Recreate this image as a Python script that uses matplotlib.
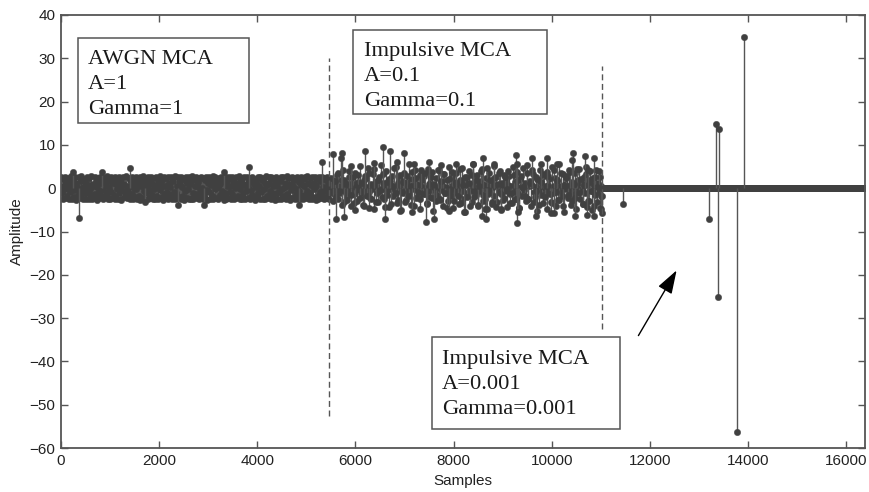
import numpy as np
import matplotlib
matplotlib.use("Agg")
import matplotlib.pyplot as plt
from matplotlib.patches import Rectangle, FancyArrowPatch

# ---------------- data ----------------
# Region 1: AWGN MCA (samples 1..5461) - dense band of values
awgn_values = [
    2.6, -1.2, 0.4, -2.5, 1.8, -0.3, 2.7, -2.2, 0.9, -1.7, 2.4, 0.1, -2.6, 1.3, -0.8, 2.8, -2.4, 0.6, 1.9, -2.1,
    -0.5, 2.5, -2.7, 1.1, 0.3, -1.9, 2.6, -0.9, -2.3, 1.6, 2.9, -1.4, 0.2, -2.5, 2.2, -0.6, 1.4, -2.6, 2.7, -1.1,
    0.8, -2.4, 2.3, -0.2, -1.6, 2.8, -2.5, 1.0, 0.5, -2.2, 2.6, -1.3, 1.7, -2.7, 0.3, 2.4, -0.7, -2.3, 2.5, 1.2,
    -1.8, 2.7, -0.4, -2.6, 1.5, 2.2, -2.1, 0.7, -1.0, 2.9, -2.4, 0.0, 1.8, -2.5, 2.6, -0.8, 1.1, -2.2, 2.3, -1.5,
    2.5, -2.6, 0.9, 1.6, -0.1, -2.4, 2.7, -1.2, 0.4, 2.1, -2.7, 1.3, -0.6, 2.6, -2.0, 0.8, -1.7, 2.8, -2.3, 0.2,
    -0.9, 2.4, -2.5, 1.9, 0.6, -1.4, 2.7, -2.6, 0.1, 1.4, -2.1, 2.5, -0.3, -2.4, 2.2, 1.0, -1.8, 2.6, -2.7, 0.5,
    1.7, -2.3, 2.8, -0.7, -2.5, 1.2, 2.4, -1.1, 0.3, -2.6, 2.6, -0.4, 1.5, -2.2, 2.7, -1.6, 0.9, -2.4, 2.3, -0.2,
    -2.5, 2.6, 0.7, -1.9, 2.2, -2.6, 1.0, -0.5, 2.9, -2.3, 0.4, 1.8, -2.7, 2.5, -1.3, 0.6, 2.4, -2.1, -0.8, 2.7,
    -2.4, 1.1, 0.2, -1.5, 2.6, -2.5, 1.6, 2.3, -0.9, -2.6, 2.8, -1.0, 0.5, -2.3, 2.5, 1.4, -2.0, 0.8, 2.7, -2.4,
    0.3, -1.7, 2.4, -2.7, 1.9, -0.6, 2.6, -2.2, 1.2, -0.1, 2.5, -2.5, 0.9, 1.7, -2.4, 2.8, -1.2, -2.6, 2.2, 0.4,
    -1.4, 2.7, -2.3, 0.6, 1.5, -2.6, 2.4, -0.7, -1.9, 2.6, 0.1, -2.5, 2.3, -1.1, 1.8, -2.2, 2.7, -0.4, -2.7, 1.3,
    2.5, -0.8, -2.4, 2.2, 0.7, -1.6, 2.8, -2.5, 1.0, -0.3, 2.6, -2.3, 1.4, 0.2, -2.6, 2.4, -1.5, 0.9, 2.7, -2.1,
    -0.6, 2.3, -2.7, 1.6, -1.0, 2.5, -2.4, 0.4, 1.9, -2.2, 2.7, -0.9, 0.6, -2.5, 2.6, -1.3, 1.1, -2.6, 2.4, 0.0,
    -2.3, 2.6, 1.2, -1.8, 0.5, 2.8, -2.5, -0.2, 1.7, -2.6, 2.3, -1.4, 0.8, 2.5, -2.4, 1.0, -0.7, 2.7, -2.2, 0.3,
    1.5, -2.6, 2.4, -0.5, -1.6, 2.6, -2.3, 0.9, 2.2, -2.7, 0.2, 1.4, -2.1, 2.7, -1.2, 0.6, -2.5, 2.5, -0.9, 1.8,
    -2.4, 2.3, -0.3, 1.1, -2.6, 2.8, -1.7, 0.7, -2.2, 2.5, 1.3, -0.6, -2.5, 2.6, -1.0, 0.4, 2.4, -2.3, 1.6, -2.7,
    2.7, -1.1, 0.5, -2.4, 2.2, -0.8, 1.7, -2.6, 2.5, -0.2, -1.9, 2.6, -2.3, 1.2, 0.3, -2.5, 2.8, -1.4, 0.8, -2.1,
    2.4, -2.7, 1.0, -0.4, 2.6, -2.2, 0.6, 1.9, -2.5, 2.3, -1.3, -0.1, 2.7, -2.4, 1.5, -0.7, -2.6, 2.5, 0.9, -1.8,
    2.2, -2.5, 0.4, 2.6, -1.5, -2.3, 2.8, -0.6, 1.1, -2.6, 2.4, -1.0, 0.7, -2.4, 2.7, -2.0, 1.3, -0.3, 2.5, -2.7,
    0.5, 2.3, -1.8, -2.5, 2.6, -0.9, 1.6, -2.2, 2.7, -1.2, 0.2, -2.6, 2.4, -0.5, 1.9, -2.3, 2.5, -1.6, 0.8, -2.4,
]
awgn_range = (1, 5461)
awgn_peak_x = [251, 367, 830, 1408, 1714, 2394, 2904, 3312, 3822, 4843, 5320]
awgn_peak_y = [3.8, -6.8, 3.8, 4.6, -3.1, -3.9, -3.9, 3.8, 5.0, -3.9, 6.1]

# Region 2: Impulsive MCA, A=0.1 (samples 5462..11030), two interleaved sample sets
imp1_values = [
    0.4, -0.9, 1.2, -0.3, 0.8, -1.4, 0.2, 1.6, -0.7, 3.1, -2.4, 0.5, -1.1, 1.9, -0.2, 4.2, -3.3, 0.9, -0.6, 1.3,
    -1.8, 0.3, 2.7, -0.8, -4.1, 1.1, 0.1, -1.3, 3.6, -0.5, 0.7, -2.9, 1.5, -0.1, 5.2, -1.0, 0.6, -3.8, 1.8, -0.4,
    2.3, -1.6, 0.2, 4.6, -0.9, -2.2, 1.0, -0.3, 3.3, -4.7, 0.8, 1.4, -1.2, 0.3, -3.1, 2.6, -0.7, 5.4, -0.2, 1.1,
    -2.6, 0.5, 3.9, -1.5, 0.9, -0.4, -4.4, 1.7, 0.1, 2.9, -1.9, 0.6, -0.8, 4.8, -3.5, 1.2, -0.5, 0.4, 2.2, -5.1,
    0.7, -1.1, 3.4, 0.2, -2.7, 1.5, -0.6, 5.7, -1.4, 0.3, -3.9, 2.1, 0.8, -0.2, 4.1, -2.3, 1.0, -1.7, 0.5, 3.0,
    -4.9, 0.4, 1.9, -0.9, 2.8, -1.3, 0.1, -3.4, 4.5, -0.7, 1.3, -2.0, 0.6, 3.7, -5.3, 0.9, -0.4, 2.4, -1.6, 0.2,
    4.3, -2.8, 1.1, -0.5, 0.7, -4.2, 3.2, -1.0, 0.3, 1.8, -3.0, 5.0, -0.8, 0.5, -1.9, 2.7, -4.6, 1.4, -0.3, 3.5,
    -1.2, 0.6, -3.6, 2.0, 0.1, 4.7, -2.5, -0.6, 1.6, -5.5, 0.8, 2.5, -1.1, 3.9, -0.4, 0.9, -3.2, 1.2, 5.5, -2.1,
    0.3, -1.5, 3.0, -4.0, 1.7, -0.7, 0.4, 4.4, -2.9, 1.0, -0.2, -4.8, 2.3, 0.6, -1.3, 3.6, -0.9, 1.5, -3.7, 0.2,
    5.1, -1.8, 0.7, 2.6, -3.3, 0.4, -0.9, 4.0, -5.0, 1.3, 0.1, -2.2, 3.1, -0.6, 1.9, -4.3, 0.8, 2.9, -1.4, 0.5,
    -3.5, 4.9, -0.3, 1.4, -2.6, 0.6, 3.8, -1.0, -4.5, 2.2, 0.2, -1.7, 4.6, -0.5, 1.1, -3.0, 0.9, 5.3, -2.4, 0.4,
    1.6, -4.1, 0.7, 3.3, -0.8, -2.0, 2.5, 0.3, -5.2, 1.9, -0.6, 4.2, -1.6, 0.5, -3.4, 2.8, 0.1, -1.2, 3.7, -4.7,
    0.8, 2.1, -0.4, -3.1, 4.8, -1.1, 0.6, 2.4, -4.0, 0.2, 1.7, -2.7, 5.6, -0.9, 0.4, -1.8, 3.2, -5.4, 1.0, -0.3,
    2.9, -2.2, 0.5, 4.1, -0.7, -3.8, 1.5, 0.3, -1.4, 3.5, -4.9, 0.9, 2.0, -0.5, 4.4, -2.6, 1.2, -0.1, -3.6, 2.6,
    -1.0, 5.0, -4.4, 0.7, 1.8, -2.9, 3.9, -0.6, -5.0, 2.3, 0.4, -1.5, 4.3, -3.2, 1.1, -0.8, 2.7, -4.6, 0.6, -1.9,
]
imp1_values_b = [
    2.4, -3.0, 1.6, -2.1, 3.5, -0.6, -3.9, 2.0, 0.9, -2.8, 4.0, -1.5, 2.6, -3.4, 0.3, 3.1, -2.3, 1.2, -4.2, 2.8,
    -1.7, 3.6, -2.5, 0.8, 4.5, -3.1, 1.9, -0.5, -2.0, 3.3, -4.4, 1.4, 2.2, -3.6, 0.6, 4.7, -1.2, -2.7, 3.0, -0.9,
    1.5, -3.3, 2.9, -1.9, 0.4, 3.8, -4.0, 2.3, -0.8, -2.4, 4.1, -1.4, 3.4, -3.7, 1.0, 2.5, -2.2, 0.2, -3.0, 4.3,
    -2.6, 1.7, 3.2, -1.1, -4.6, 2.1, -0.3, 3.7, -2.9, 1.3, -1.8, 4.4, -3.5, 0.7, 2.7, -2.0, 1.1, -4.1, 3.1, -0.7,
    2.0, -3.8, 0.5, 3.9, -1.6, -2.5, 4.6, -0.4, 1.8, -3.2, 2.4, -4.3, 0.9, 3.4, -1.3, -2.8, 2.6, -0.2, 4.0, -3.4,
    -1.0, 3.0, -2.4, 1.6, -4.5, 2.9, 0.3, -1.9, 3.6, -2.6, 1.2, 4.2, -3.1, -0.6, 2.2, -3.9, 1.4, 3.3, -2.1, 0.6,
    2.8, -1.4, -3.5, 4.1, -0.9, 1.9, -2.7, 3.5, -4.2, 0.4, 2.3, -1.6, 3.8, -3.0, 1.0, -2.3, 4.5, -1.1, 2.1, -3.7,
    0.7, 3.2, -2.9, 1.5, -0.7, -4.0, 2.6, 0.2, 3.9, -1.8,
]
imp1_range = (5462, 11030)
imp1_range_b = (5500, 11000)
imp1_peak_x = [5537, 5708, 5728, 5900, 6204, 6380, 6564, 6714, 6850, 6986, 7200, 7496, 7750, 8050,
               8400, 8598, 8820, 9265, 9300, 9606, 9775, 9900, 10100, 10420, 10443, 10673, 10741, 10863,
               5612, 5761, 6000, 6271, 6612, 6900, 7150, 7429, 7598, 7900, 8210, 8585, 8653, 8690,
               8960, 9300, 9310, 9673, 9980, 10047, 10469, 10727, 10870, 11010, 11034]
imp1_peak_y = [8.0, 6.9, 8.2, 5.2, 8.7, 5.8, 9.4, 8.7, 6.0, 8.2, 5.5, 6.1, 5.3, 5.7,
               5.6, 6.9, 5.6, 7.6, 5.6, 6.9, 5.6, 6.9, 5.5, 6.5, 8.2, 7.4, 4.2, 6.9,
               -7.0, -6.7, -5.0, -4.6, -7.0, -5.3, -5.6, -7.7, -7.2, -5.2, -5.4, -6.4, -7.0, -4.8,
               -4.8, -8.1, -5.4, -6.4, -5.8, -5.8, -6.4, -6.1, -6.4, -4.9, -5.8]

# Region 3: Impulsive MCA, A=0.001 (samples 11031..16384): zero except a few impulses
imp2_range = (11040, 16384)
imp2_quiet_count = 1500
imp2_quiet_level = 0.0
imp2_peak_x = [11455, 13210, 13347, 13380, 13400, 13775, 13925]
imp2_peak_y = [-3.6, -7.1, 14.8, -25.2, 13.6, -56.4, 35.0]

# Region boundaries (dashed markers)
boundary_x = [5461, 11030]
boundary_ylo = [-52.5, -32.5]
boundary_yhi = [30.0, 28.2]

x_ticks = [0, 2000, 4000, 6000, 8000, 10000, 12000, 14000, 16000]
y_ticks = [-60, -50, -40, -30, -20, -10, 0, 10, 20, 30, 40]

# ---------------- figure ----------------
W, H = 870, 492
fig = plt.figure(figsize=(W / 100, H / 100), dpi=100)
ax = fig.add_axes([61 / W, 1 - 448 / H, (865 - 61) / W, (448 - 15) / H])

MK = '#404040'
ST = '#555555'
MS = 4.6


def stem(x, y, lw=1.0):
    ml, sl, bl = ax.stem(x, y, linefmt='-', markerfmt='o', basefmt=' ')
    sl.set_color(ST)
    sl.set_linewidth(lw)
    ml.set_color(MK)
    ml.set_markersize(MS)
    ml.set_markeredgewidth(0.3)
    ml.set_markeredgecolor(MK)
    return ml, sl


stem(np.linspace(awgn_range[0], awgn_range[1], len(awgn_values)), awgn_values, lw=1.6)
stem(awgn_peak_x, awgn_peak_y)
stem(np.linspace(imp1_range[0], imp1_range[1], len(imp1_values)), imp1_values, lw=1.0)
stem(np.linspace(imp1_range_b[0], imp1_range_b[1], len(imp1_values_b)), imp1_values_b, lw=1.0)
stem(imp1_peak_x, imp1_peak_y)
stem(np.linspace(imp2_range[0], imp2_range[1], imp2_quiet_count),
     np.full(imp2_quiet_count, imp2_quiet_level))
stem(imp2_peak_x, imp2_peak_y)

for bx, lo, hi in zip(boundary_x, boundary_ylo, boundary_yhi):
    ax.plot([bx, bx], [lo, hi], color='#555555', lw=1.0, dashes=(4.3, 2.6))

ax.set_xlim(0, 16384)
ax.set_ylim(-60, 40)
ax.set_xticks(x_ticks)
ax.set_yticks(y_ticks)

sans = ['Liberation Sans', 'DejaVu Sans']
ax.tick_params(direction='in', length=5, width=1.0, color='#555555',
               top=True, right=True, labelsize=11, labelcolor='#222222', pad=4)
for lab in ax.get_xticklabels() + ax.get_yticklabels():
    lab.set_family(sans)
for s in ax.spines.values():
    s.set_color('#555555')
    s.set_linewidth(1.3)

ax.set_xlabel('Samples', fontsize=11, family=sans, color='#222222', labelpad=5)
ax.set_ylabel('Amplitude', fontsize=11, family=sans, color='#222222', labelpad=4)


# ---------------- annotations (figure pixel positions) ----------------
def fx(px):
    return px / W


def fy(py):
    return 1 - py / H


serif = ['Liberation Serif', 'DejaVu Serif']
boxes = [
    ((78, 38, 249, 123), 88, [64, 89, 114], ['AWGN MCA', 'A=1', 'Gamma=1']),
    ((353, 30, 547, 114), 364, [56, 81, 106], ['Impulsive MCA', 'A=0.1', 'Gamma=0.1']),
    ((432, 337, 620, 429), 442, [364, 389, 414], ['Impulsive MCA', 'A=0.001', 'Gamma=0.001']),
]
for (x0, y0, x1, y1), tx, bls, lines in boxes:
    fig.add_artist(Rectangle((fx(x0), fy(y1)), (x1 - x0) / W, (y1 - y0) / H,
                             transform=fig.transFigure, facecolor='white',
                             edgecolor='#555555', lw=1.1, zorder=5))
    for b, s in zip(bls, lines):
        fig.text(fx(tx), fy(b), s, family=serif, fontsize=16.2, color='#1a1a1a',
                 va='baseline', ha='left', zorder=6)

arrow = FancyArrowPatch((fx(637), fy(338)), (fx(678), fy(268)),
                        transform=fig.transFigure, arrowstyle='-|>,head_length=0.9,head_width=0.3',
                        mutation_scale=16, color='black', lw=1.0, zorder=6)
fig.add_artist(arrow)

fig.savefig('out.png', dpi=100)
